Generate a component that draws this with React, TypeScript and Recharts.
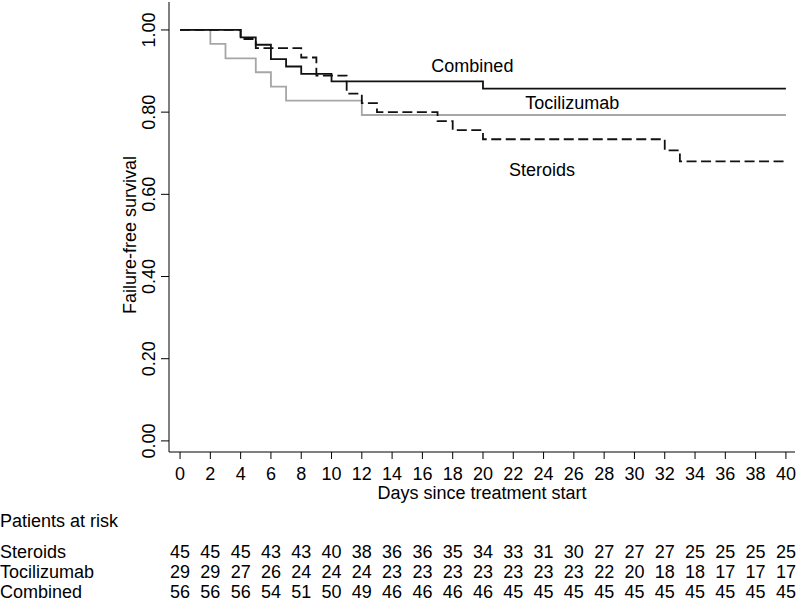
import React from "react";
import { LineChart, Line, XAxis, YAxis, ReferenceDot } from "recharts";

// Kaplan-Meier steps (day, survival)
const steroidsDays = [0, 4, 5, 8, 9, 11, 12, 13, 17, 18, 20, 32, 33, 40];
const steroidsSurv = [1.0, 0.978, 0.956, 0.933, 0.889, 0.845, 0.822, 0.8, 0.778, 0.756, 0.734, 0.707, 0.68, 0.68];

const tociDays = [0, 2, 3, 5, 6, 7, 12, 40];
const tociSurv = [1.0, 0.966, 0.931, 0.897, 0.862, 0.828, 0.793, 0.793];

const combinedDays = [0, 4, 5, 6, 7, 8, 10, 20, 40];
const combinedSurv = [1.0, 0.982, 0.964, 0.929, 0.911, 0.893, 0.875, 0.857, 0.857];

// patients at risk, every 2 days
const dayTicks = [0, 2, 4, 6, 8, 10, 12, 14, 16, 18, 20, 22, 24, 26, 28, 30, 32, 34, 36, 38, 40];
const steroidsRisk = [45, 45, 45, 43, 43, 40, 38, 36, 36, 35, 34, 33, 31, 30, 27, 27, 27, 25, 25, 25, 25];
const tociRisk = [29, 29, 27, 26, 24, 24, 24, 23, 23, 23, 23, 23, 23, 23, 22, 20, 18, 18, 17, 17, 17];
const combinedRisk = [56, 56, 56, 54, 51, 50, 49, 46, 46, 46, 46, 45, 45, 45, 45, 45, 45, 45, 45, 45, 45];

const yTicks = [0, 0.2, 0.4, 0.6, 0.8, 1.0];

const curveLabels = [
  { name: "Combined", day: 19.3, surv: 0.912 },
  { name: "Tocilizumab", day: 25.9, surv: 0.822 },
  { name: "Steroids", day: 23.9, surv: 0.659 },
];

const FONT = "'Liberation Sans', Arial, Helvetica, sans-serif";
const FS = 18;

const toPoints = (days: number[], surv: number[]) =>
  days.map((d, i) => ({ day: d, s: surv[i] }));

const steroids = toPoints(steroidsDays, steroidsSurv);
const toci = toPoints(tociDays, tociSurv);
const combined = toPoints(combinedDays, combinedSurv);

const riskPoints = (counts: number[]) => dayTicks.map((d, i) => ({ day: d, n: counts[i] }));

const xDomain = [-0.73, 40.6];

const YTick = (props: any) => {
  const { x, y, payload } = props;
  return (
    <text
      x={x}
      y={y}
      transform={`rotate(-90, ${x}, ${y})`}
      textAnchor="middle"
      dominantBaseline="central"
      fontSize={FS}
      fill="#000"
    >
      {Number(payload.value).toFixed(2)}
    </text>
  );
};

const riskTick = (name: string, counts: number[]) => (props: any) => {
  const { x, y, payload, index } = props;
  const i = dayTicks.indexOf(payload.value);
  return (
    <g>
      {index === 0 && (
        <text x={0} y={y + 16} fontSize={FS} fill="#000" textAnchor="start">
          {name}
        </text>
      )}
      <text x={x} y={y + 16} fontSize={FS} fill="#000" textAnchor="middle">
        {i >= 0 ? counts[i] : ""}
      </text>
    </g>
  );
};

// axis ids sort in this order, which sets the row order below the plot
const riskRows = [
  { id: "r1", name: "Steroids", counts: steroidsRisk },
  { id: "r2", name: "Tocilizumab", counts: tociRisk },
  { id: "r3", name: "Combined", counts: combinedRisk },
];

const App = () => {
  return (
    <div
      style={{
        position: "absolute",
        left: 0,
        top: 0,
        width: 800,
        height: 602,
        fontFamily: FONT,
        background: "#fff",
      }}
    >
      <LineChart
        width={800}
        height={602}
        margin={{ top: 2, right: 5, bottom: 0, left: 0 }}
        style={{ fontFamily: FONT }}
      >
        <XAxis
          xAxisId={0}
          dataKey="day"
          type="number"
          domain={xDomain}
          ticks={dayTicks}
          allowDataOverflow
          height={90}
          tickSize={7}
          tickMargin={8}
          stroke="#000"
          tick={{ fill: "#000", fontSize: FS }}
          label={{
            content: (p: any) => {
              const vb = p.viewBox;
              return (
                <text
                  x={vb.x + vb.width / 2}
                  y={vb.y + 47}
                  textAnchor="middle"
                  fontSize={FS}
                  fill="#000"
                >
                  Days since treatment start
                </text>
              );
            },
          }}
        />
        {riskRows.map((r) => (
          <XAxis
            key={r.id}
            xAxisId={r.id}
            dataKey="day"
            type="number"
            domain={xDomain}
            ticks={dayTicks}
            allowDataOverflow
            height={20}
            axisLine={false}
            tickLine={false}
            tickSize={0}
            tickMargin={0}
            tick={riskTick(r.name, r.counts)}
          />
        ))}
        <YAxis
          type="number"
          domain={[-0.027, 1.068]}
          ticks={yTicks}
          allowDataOverflow
          width={169}
          tickSize={8}
          tickMargin={12}
          stroke="#000"
          tick={<YTick />}
          label={{
            content: (p: any) => {
              const vb = p.viewBox;
              const cy = vb.y + vb.height / 2 + 8;
              return (
                <text
                  x={130}
                  y={cy}
                  transform={`rotate(-90, 130, ${cy})`}
                  textAnchor="middle"
                  dominantBaseline="central"
                  fontSize={FS}
                  fill="#000"
                >
                  Failure-free survival
                </text>
              );
            },
          }}
        />
        {riskRows.map((r) => (
          <Line
            key={r.id + "-line"}
            xAxisId={r.id}
            data={riskPoints(r.counts)}
            dataKey="n"
            stroke="none"
            dot={false}
            activeDot={false}
            isAnimationActive={false}
          />
        ))}
        <Line
          data={toci}
          dataKey="s"
          type="stepAfter"
          stroke="#a6a6a6"
          strokeWidth={1.8}
          dot={false}
          isAnimationActive={false}
        />
        <Line
          data={steroids}
          dataKey="s"
          type="stepAfter"
          stroke="#111"
          strokeWidth={1.8}
          strokeDasharray="10 4.5"
          dot={false}
          isAnimationActive={false}
        />
        <Line
          data={combined}
          dataKey="s"
          type="stepAfter"
          stroke="#111"
          strokeWidth={1.8}
          dot={false}
          isAnimationActive={false}
        />
        {curveLabels.map((c) => (
          <ReferenceDot
            key={c.name}
            x={c.day}
            y={c.surv}
            r={0}
            fill="none"
            stroke="none"
            label={{ value: c.name, position: "center", fontSize: FS, fill: "#000" }}
          />
        ))}
      </LineChart>
      <div
        style={{
          position: "absolute",
          left: 0,
          top: 511,
          fontSize: FS,
          lineHeight: "20px",
          color: "#000",
          whiteSpace: "nowrap",
        }}
      >
        Patients at risk
      </div>
    </div>
  );
};

export default App;
